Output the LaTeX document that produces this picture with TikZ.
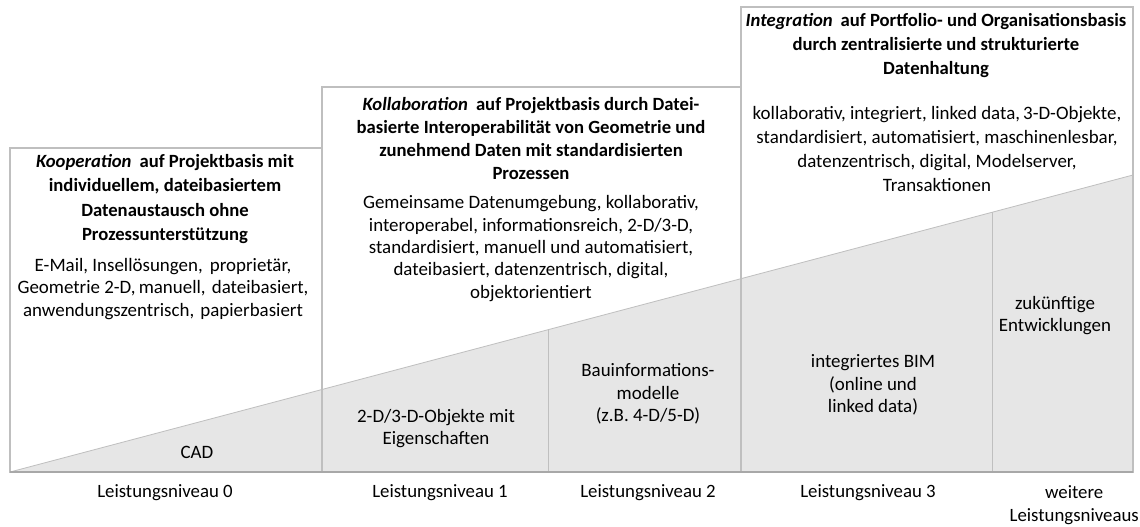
\documentclass[tikz,border=0pt]{standalone}
\usepackage{fontspec}
\setmainfont{Carlito}
\definecolor{boxgray}{HTML}{BFBFBF}
\definecolor{basegray}{HTML}{A8A8A8}
\definecolor{wedgefill}{HTML}{E6E6E6}
\begin{document}
\begin{tikzpicture}[x=0.75pt,y=-0.75pt,
  frame/.style={draw=boxgray, line width=0.9pt},
  lbl/.style={align=center, inner sep=0pt, font=\fontsize{14.2}{16.8}\selectfont},
  widelbl/.style={align=center, inner sep=0pt, font=\fontsize{14.2}{17.8}\selectfont},
  ttl/.style={align=center, inner sep=0pt, font=\fontsize{14}{18.2}\selectfont\bfseries},
  ttltight/.style={align=center, inner sep=0pt, font=\fontsize{14}{17.2}\selectfont\bfseries},
  lvl/.style={align=center, inner sep=0pt, font=\fontsize{14.1}{17.2}\selectfont},
]
\useasboundingbox (0,0) rectangle (1140,526);
\fill[white] (0,0) rectangle (1140,526);

% rising wedge of maturity
\coordinate (w0) at (10,472);
\coordinate (w1) at (1133,175);
\coordinate (w2) at (1133,472);
\fill[wedgefill] (w0) -- (w1) -- (w2) -- cycle;
\draw[draw=boxgray, line width=0.6pt] (w0) -- (w1);

% the three stair-step boxes
\draw[frame] (10,148) rectangle (322,472);
\draw[frame] (322,87) rectangle (741,472);
\draw[frame] (741,7) rectangle (1133,472);

% dividers inside the wedge
\coordinate (d1top) at (548,329.7);
\coordinate (d1bot) at (548,472);
\coordinate (d2top) at (992,212.3);
\coordinate (d2bot) at (992,472);
\draw[draw=boxgray, line width=0.7pt] (d1top) -- (d1bot);
\draw[draw=boxgray, line width=0.7pt] (d2top) -- (d2bot);

% base line
\draw[draw=basegray, line width=1.4pt] (w0) -- (w2);

% box titles
\node[ttl] (t0) at (165,199) {\textit{Kooperation}\hspace{0.2em} auf Projektbasis mit\\individuellem, dateibasiertem\\Datenaustausch ohne\\Prozessunterstützung};
\node[ttltight] (t1) at (531,138.5) {\textit{Kollaboration}\hspace{0.2em} auf Projektbasis durch Datei-\\basierte Interoperabilität von Geometrie und\\zunehmend Daten mit standardisierten\\Prozessen};
\node[ttl] (t2) at (936,45.5) {\textit{Integration}\hspace{0.2em} auf Portfolio- und Organisationsbasis\\durch zentralisierte und strukturierte\\Datenhaltung};

% box descriptions
\node[lbl] (b0) at (163,289) {E-Mail, Insellösungen,\hspace{0.15em} proprietär,\\Geometrie 2-D,\,manuell,\hspace{0.1em} dateibasiert,\\anwendungszentrisch,\hspace{0.1em} papierbasiert};
\node[lbl] (b1) at (531,248.5) {Gemeinsame Datenumgebung, kollaborativ,\\interoperabel, informationsreich, 2-D/3-D,\\standardisiert, manuell und automatisiert,\\dateibasiert, datenzentrisch, digital,\\objektorientiert};
\node[widelbl] (b2) at (937,149) {kollaborativ, integriert, linked data,\,3-D-Objekte,\\standardisiert, automatisiert, maschinenlesbar,\\datenzentrisch, digital, Modelserver,\\Transaktionen};

% labels inside the wedge
\node[lbl] (cad) at (197,452) {CAD};
\node[lbl] (obj) at (436,428.5) {2-D/3-D-Objekte mit\\Eigenschaften};
\node[lbl] (bim) at (648,394) {Bauinformations-\\modelle\\(z.B. 4-D/5-D)};
\node[lbl] (ibim) at (873,385) {integriertes BIM\\(online und\\linked data)};
\node[lbl] (fut) at (1055,315.5) {zukünftige\\Entwicklungen};

% performance levels
\node[lvl] (l0) at (165,493) {Leistungsniveau 0};
\node[lvl] (l1) at (440,493) {Leistungsniveau 1};
\node[lvl] (l2) at (648,493) {Leistungsniveau 2};
\node[lvl] (l3) at (868,493) {Leistungsniveau 3};
\node[lvl, anchor=north east] (l4) at (1139,485) {weitere\\Leistungsniveaus};
\end{tikzpicture}
\end{document}
